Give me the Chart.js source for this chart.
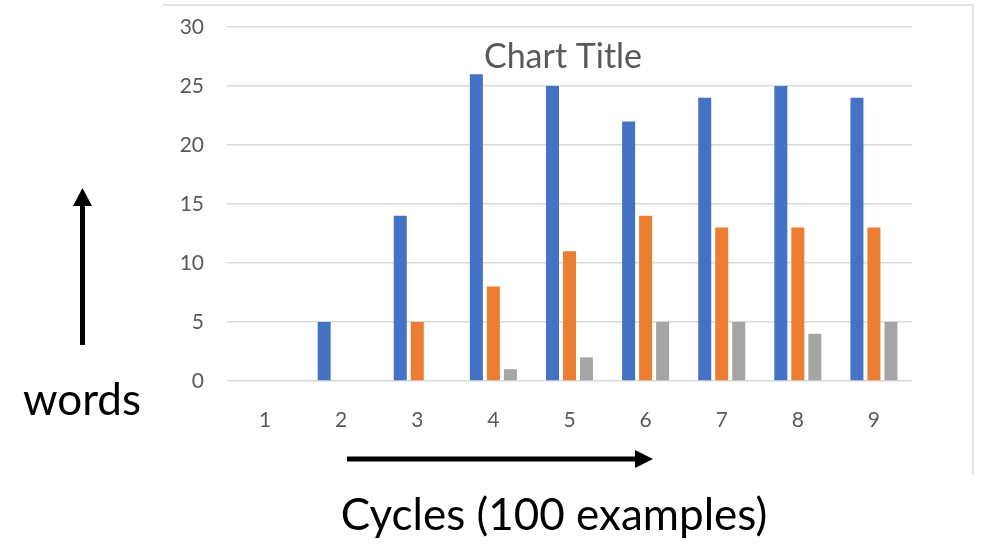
<!DOCTYPE html>
<html>
<head>
<meta charset="utf-8">
<script src="https://cdn.jsdelivr.net/npm/chart.js@4"></script>
<style>
  html, body { margin: 0; padding: 0; background: #fff; }
  #caja { width: 986px; height: 545px; }
</style>
</head>
<body>
<div id="caja"><canvas id="grafica" width="986" height="545"></canvas></div>
<script>
// --- Datos ---
const ciclos = ['1', '2', '3', '4', '5', '6', '7', '8', '9'];
const serieAzul = [0, 5, 14, 26, 25, 22, 24, 25, 24];
const serieNaranja = [0, 0, 5, 8, 11, 14, 13, 13, 13];
const serieGris = [0, 0, 0, 1, 2, 5, 5, 4, 5];

const fuente = 'Lato, "Open Sans", sans-serif';

// --- Flechas, textos y marco de la imagen ---
const decoraciones = {
  id: 'decoraciones',
  afterDraw(chart) {
    const ctx = chart.ctx;
    ctx.save();

    // marco del grafico (arriba y derecha)
    ctx.strokeStyle = '#d9d9d9';
    ctx.lineWidth = 1.5;
    ctx.beginPath();
    ctx.moveTo(163, 5);
    ctx.lineTo(973, 5);
    ctx.lineTo(973, 475);
    ctx.stroke();

    // titulo
    ctx.fillStyle = '#595959';
    ctx.font = '34px ' + fuente;
    ctx.textAlign = 'center';
    ctx.textBaseline = 'alphabetic';
    ctx.fillText('Chart Title', 563, 68);

    // flecha vertical
    ctx.fillStyle = '#000';
    ctx.fillRect(80, 204, 5, 141);
    ctx.beginPath();
    ctx.moveTo(82.5, 188);
    ctx.lineTo(92, 206);
    ctx.lineTo(73, 206);
    ctx.closePath();
    ctx.fill();

    // flecha horizontal
    ctx.fillRect(347, 456.5, 290, 5);
    ctx.beginPath();
    ctx.moveTo(653, 459);
    ctx.lineTo(635, 450);
    ctx.lineTo(635, 468);
    ctx.closePath();
    ctx.fill();

    // etiquetas de los ejes
    ctx.font = '44px ' + fuente;
    ctx.fillText('words', 82, 415);
    ctx.fillText('Cycles (100 examples)', 554, 530);

    ctx.restore();
  }
};

const ctx = document.getElementById('grafica');

new Chart(ctx, {
  type: 'bar',
  data: {
    labels: ciclos,
    datasets: [
      { label: 'Series1', data: serieAzul, backgroundColor: '#4472C4' },
      { label: 'Series2', data: serieNaranja, backgroundColor: '#ED7D31' },
      { label: 'Series3', data: serieGris, backgroundColor: '#A5A5A5' }
    ]
  },
  options: {
    responsive: false,
    animation: false,
    layout: { padding: { left: 160, right: 74, top: 27, bottom: 100 } },
    datasets: {
      bar: { categoryPercentage: 0.67, barPercentage: 0.765 }
    },
    plugins: {
      legend: { display: false },
      title: { display: false },
      tooltip: { enabled: false }
    },
    scales: {
      x: {
        grid: { display: false },
        border: { display: false },
        ticks: { color: '#595959', padding: 19, font: { family: fuente, size: 21 } },
        afterFit: (scale) => { scale.height = 64; scale.paddingLeft = 0; scale.paddingRight = 0; }
      },
      y: {
        min: 0,
        max: 30,
        grid: { color: '#d9d9d9', lineWidth: 1.5, drawTicks: false },
        border: { display: false },
        ticks: { stepSize: 5, color: '#595959', padding: 23, font: { family: fuente, size: 21 } },
        afterFit: (scale) => { scale.width = 67; scale.paddingTop = 0; scale.paddingBottom = 0; }
      }
    }
  },
  plugins: [decoraciones]
});
</script>
</body>
</html>
